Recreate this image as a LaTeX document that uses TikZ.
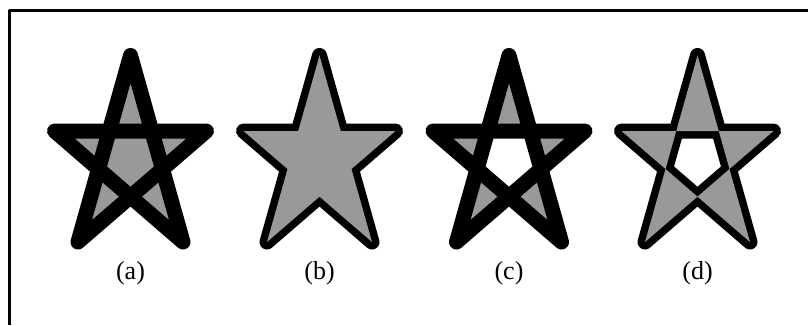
\documentclass[tikz,border=0pt]{standalone}
\usepackage{fontspec}
\setmainfont{Liberation Serif}
\usepackage{tikz}
\usepackage{xcolor}

\definecolor{stargray}{gray}{0.6}
% one pentagram, drawn tip to tip
\newcommand{\starpath}{(0,55.5) -- (52.5,242) -- (-76,131) -- (76,131) -- (-52.5,242) -- cycle}

\begin{document}
\begin{tikzpicture}[x=1pt, y=-1pt, line join=round,
    starline/.style={line width=15pt},
    starlabel/.style={font=\fontsize{26}{30}\selectfont, inner sep=0pt}]
    \useasboundingbox (0,0) rectangle (808,325);
    % frame (top and left only)
    \draw[line width=3pt] (9.5,325) -- (9.5,10.5) -- (808,10.5);
    % (a) nonzero fill, then stroke
    \begin{scope}[shift={(130.5,0)}]
        \filldraw[starline, fill=stargray, nonzero rule] \starpath;
    \end{scope}
    % (b) stroke, then nonzero fill on top
    \begin{scope}[shift={(319.5,0)}]
        \draw[starline] \starpath;
        \fill[stargray, nonzero rule] \starpath;
    \end{scope}
    % (c) even-odd fill, then stroke
    \begin{scope}[shift={(509,0)}]
        \filldraw[starline, fill=stargray, even odd rule] \starpath;
    \end{scope}
    % (d) stroke, then even-odd fill on top
    \begin{scope}[shift={(697.5,0)}]
        \draw[starline] \starpath;
        \fill[stargray, even odd rule] \starpath;
    \end{scope}
    % labels
    \node[starlabel] (la) at (130.5,273) {(a)};
    \node[starlabel] (lb) at (319.5,273) {(b)};
    \node[starlabel] (lc) at (509,273) {(c)};
    \node[starlabel] (ld) at (697.5,273) {(d)};
\end{tikzpicture}
\end{document}
